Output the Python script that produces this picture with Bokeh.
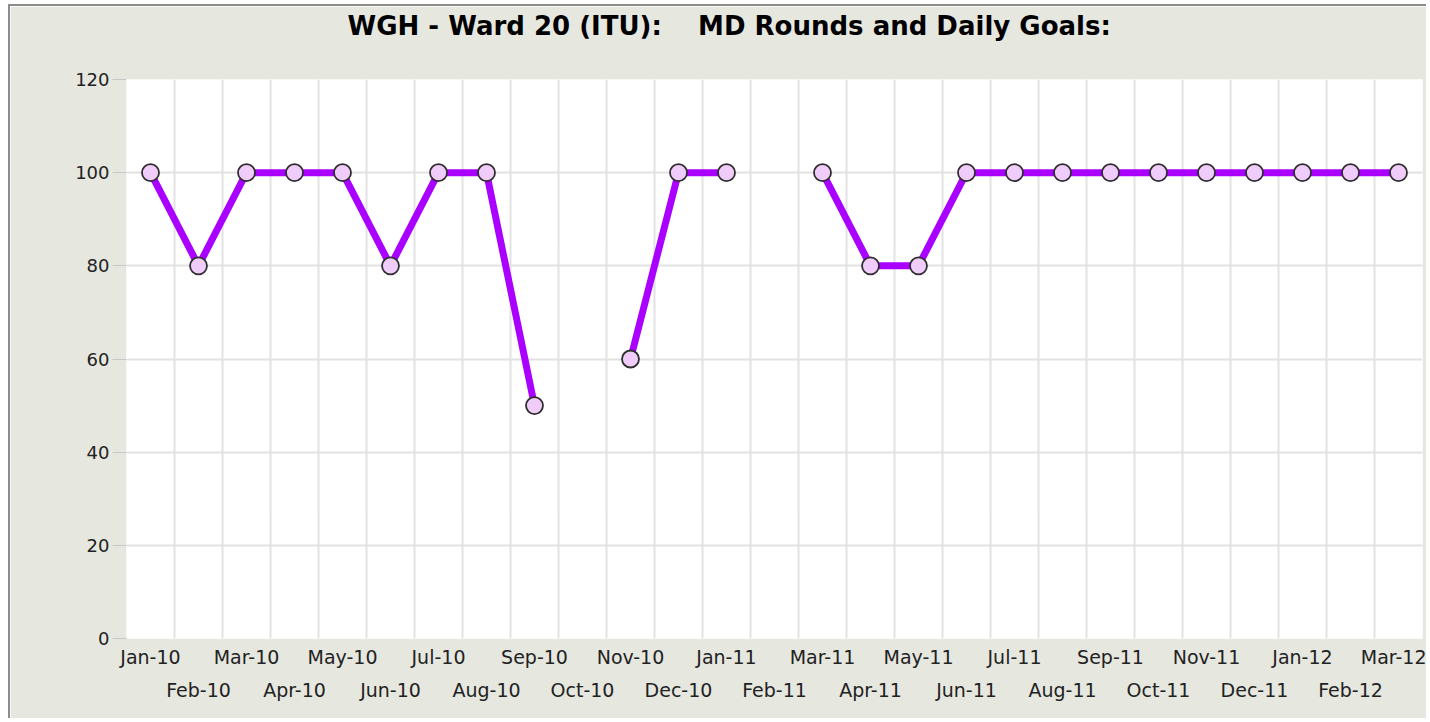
import numpy as np
from bokeh.plotting import figure
from bokeh.models import FixedTicker, LinearAxis, Range1d, Title
from bokeh.embed import file_html
from bokeh.resources import INLINE

months = ["Jan-10", "Feb-10", "Mar-10", "Apr-10", "May-10", "Jun-10", "Jul-10", "Aug-10",
          "Sep-10", "Oct-10", "Nov-10", "Dec-10", "Jan-11", "Feb-11", "Mar-11", "Apr-11",
          "May-11", "Jun-11", "Jul-11", "Aug-11", "Sep-11", "Oct-11", "Nov-11", "Dec-11",
          "Jan-12", "Feb-12", "Mar-12"]
values = [100, 80, 100, 100, 100, 80, 100, 100, 50, None, 60, 100, 100, None, 100, 80,
          80, 100, 100, 100, 100, 100, 100, 100, 100, 100, 100]
y_ticks = [0, 20, 40, 60, 80, 100, 120]
title_text = "WGH - Ward 20 (ITU):\u00a0\u00a0\u00a0\u00a0MD Rounds and Daily Goals:"

n = len(months)
xs = list(range(n))
ys = [np.nan if v is None else v for v in values]

BG = "#e6e8e0"
FONT = "DejaVu Sans"

p = figure(width=1418, height=714, output_backend="svg", toolbar_location=None, title=None,
           x_range=Range1d(-0.5, n - 0.5), y_range=Range1d(0, 120),
           min_border_left=116, min_border_right=6, min_border_top=73, min_border_bottom=82,
           background_fill_color="white", border_fill_color=BG, outline_line_color=None)
p.styles = {"margin-left": "8px", "margin-top": "4px",
            "border-left": "2px solid #8c8c8c", "border-top": "2px solid #8c8c8c"}

# spacer between frame and title, then the title itself (stacked outward)
p.add_layout(Title(text="\u00a0", text_font_size="33px", standoff=0, text_color=BG), "above")
p.add_layout(Title(text=title_text, text_font=FONT, text_font_size="26px",
                   text_font_style="bold", text_color="black", align="left",
                   offset=221, standoff=0), "above")

# x axes: alternating label rows
even = [i for i in xs if i % 2 == 0]
odd = [i for i in xs if i % 2 == 1]
p.xaxis.ticker = FixedTicker(ticks=even)
p.xaxis.major_label_overrides = {i: months[i] for i in even}
ax2 = LinearAxis(ticker=FixedTicker(ticks=odd),
                 major_label_overrides={i: months[i] for i in odd})
p.add_layout(ax2, "below")
for ax in (p.xaxis[0], ax2):
    ax.axis_line_color = None
    ax.major_tick_line_color = None
    ax.minor_tick_line_color = None
    ax.major_tick_out = 0
    ax.major_tick_in = 0
    ax.major_label_text_font = FONT
    ax.major_label_text_font_size = "19px"
    ax.major_label_text_color = "#222222"
p.xaxis[0].major_label_standoff = 7
ax2.major_label_standoff = 8

p.yaxis.ticker = FixedTicker(ticks=y_ticks)
p.yaxis.axis_line_color = None
p.yaxis.minor_tick_line_color = None
p.yaxis.major_tick_line_color = "#c8c8c8"
p.yaxis.major_tick_out = 14
p.yaxis.major_tick_in = 0
p.yaxis.major_label_standoff = 3
p.yaxis.major_label_text_font = FONT
p.yaxis.major_label_text_font_size = "18px"
p.yaxis.major_label_text_color = "#222222"

p.xgrid.ticker = FixedTicker(ticks=[i + 0.5 for i in xs[:-1]])
p.xgrid.grid_line_color = "#e2e2e2"
p.xgrid.grid_line_width = 2
p.ygrid.ticker = FixedTicker(ticks=y_ticks)
p.ygrid.grid_line_color = "#e2e2e2"
p.ygrid.grid_line_width = 2

p.line(xs, ys, line_color="#aa00ff", line_width=7)
p.scatter(xs, ys, size=17, fill_color="#f0ccfa", line_color="#2e2e2e", line_width=1.8)

open("out.html", "w").write(file_html(p, INLINE))
